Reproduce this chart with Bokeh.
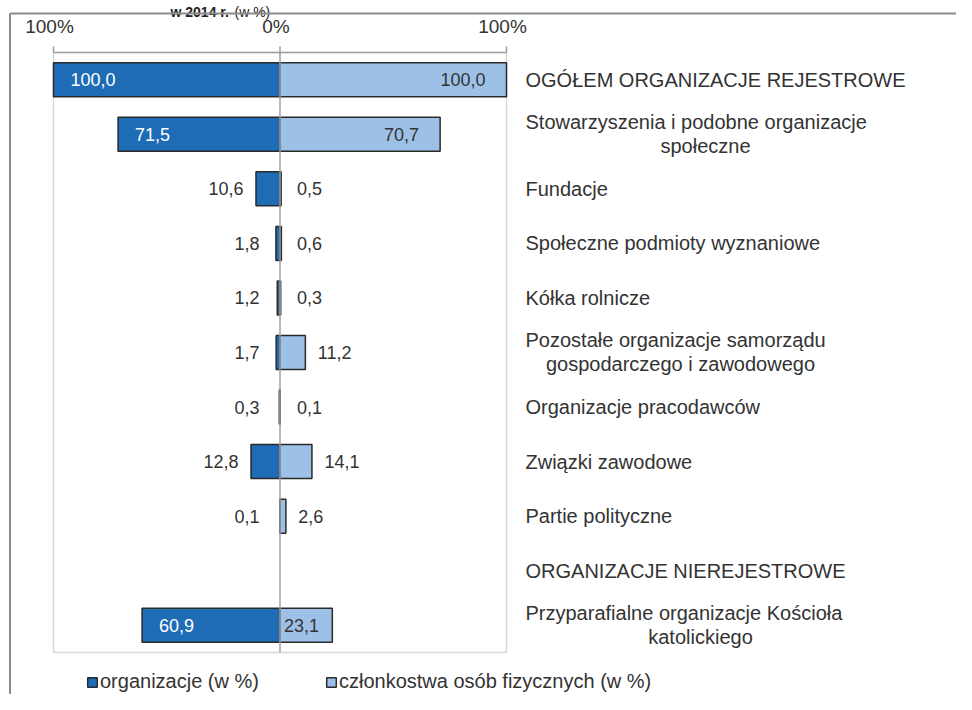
from bokeh.plotting import figure
from bokeh.models import Range1d, ColumnDataSource, Legend, LegendItem
from bokeh.core.properties import value
from bokeh.embed import file_html
from bokeh.resources import INLINE
import math

# ---------------- data ----------------
title_bold = "w 2014 r."
title_rest = "(w %)"
categories = [
    "OGÓŁEM ORGANIZACJE REJESTROWE",
    "Stowarzyszenia i podobne organizacje\nspołeczne",
    "Fundacje",
    "Społeczne podmioty wyznaniowe",
    "Kółka rolnicze",
    "Pozostałe organizacje samorządu\ngospodarczego i zawodowego",
    "Organizacje pracodawców",
    "Związki zawodowe",
    "Partie polityczne",
    "ORGANIZACJE NIEREJESTROWE",
    "Przyparafialne organizacje Kościoła\nkatolickiego",
]
organizacje = [100.0, 71.5, 10.6, 1.8, 1.2, 1.7, 0.3, 12.8, 0.1, float("nan"), 60.9]
czlonkostwa = [100.0, 70.7, 0.5, 0.6, 0.3, 11.2, 0.1, 14.1, 2.6, float("nan"), 23.1]
tick_values = [-100, 0, 100]
tick_labels = ["100%", "0%", "100%"]
legend_labels = ["organizacje (w %)", "członkostwa osób fizycznych (w %)"]

# ---------------- geometry helpers ----------------
W, H = 956, 694
PX_PER_PCT = 2.265          # screen px per 1 %
X0_PX = 53                  # screen px of -100 %
TOP_PX, ROW_PX = 52, 54.545 # top of plot box, row pitch
n = len(categories)

x_start = -100 - X0_PX / PX_PER_PCT
x_end = x_start + W / PX_PER_PCT


def ypx(px):
    return (px - TOP_PX) / ROW_PX - 0.5


def xpx(px):
    return -100 + (px - X0_PX) / PX_PER_PCT


def dpx(px):
    return px / PX_PER_PCT


def fmt(v):
    return f"{v:.1f}".replace(".", ",")


DARK = "#1e6bb6"
LIGHT = "#9dc0e7"
EDGE = "#2a2a2a"
TXT = "#333333"
FONT = value("Liberation Sans")

p = figure(width=W, height=H, x_range=Range1d(x_start, x_end),
           y_range=Range1d(ypx(H), ypx(0)),
           output_backend="svg", toolbar_location=None,
           x_axis_location=None, y_axis_location=None, min_border=0)
p.grid.visible = False
p.outline_line_color = None
p.background_fill_color = "white"
p.border_fill_color = "white"

# title (small, kept above the frame)
p.text(x=[xpx(170)], y=[ypx(11)], text=[title_bold], text_font=FONT,
       text_font_size="14px", text_font_style="bold", text_color="#222222",
       text_align="left", text_baseline="alphabetic")
p.text(x=[xpx(234)], y=[ypx(11)], text=[title_rest], text_font=FONT,
       text_font_size="14px", text_color="#222222",
       text_align="left", text_baseline="alphabetic")

# outer frame
p.segment(x0=[xpx(9.5), xpx(9.5)], y0=[ypx(13), ypx(13)],
          x1=[xpx(9.5), xpx(W)], y1=[ypx(H), ypx(13)],
          line_color="#8c8c8c", line_width=2)

# plot box
p.quad(left=[-100], right=[100], top=[ypx(TOP_PX)], bottom=[ypx(TOP_PX + n * ROW_PX)],
       fill_color=None, line_color="#d9d9d9", line_width=1.5)

rows = list(range(n))
src = ColumnDataSource(dict(
    y=rows,
    org_left=[-v for v in organizacje],
    czl_right=czlonkostwa,
))
bar_h = 34 / ROW_PX
r_org = p.hbar(y="y", left="org_left", right=0, height=bar_h, source=src,
               fill_color=DARK, line_color=EDGE, line_width=1.5)
r_czl = p.hbar(y="y", left=0, right="czl_right", height=bar_h, source=src,
               fill_color=LIGHT, line_color=EDGE, line_width=1.5)

# axis (top) and zero line
p.segment(x0=[-100], y0=[ypx(TOP_PX)], x1=[100], y1=[ypx(TOP_PX)],
          line_color="#a0a0a0", line_width=1.5)
p.segment(x0=tick_values, y0=[ypx(TOP_PX - 6)] * 3, x1=tick_values,
          y1=[ypx(TOP_PX)] * 3, line_color="#a0a0a0", line_width=1.5)
p.segment(x0=[0], y0=[ypx(TOP_PX)], x1=[0], y1=[ypx(TOP_PX + n * ROW_PX)],
          line_color="#a0a0a0", line_width=1.5)
p.text(x=[t - dpx(4) for t in tick_values], y=[ypx(26)] * 3, text=tick_labels,
       text_font=FONT, text_font_size="19px", text_color=TXT,
       text_align="center", text_baseline="middle")

# value labels
groups = {}


def add(key, x, y, t):
    groups.setdefault(key, ([], [], []))
    groups[key][0].append(x)
    groups[key][1].append(y)
    groups[key][2].append(t)


for i, v in enumerate(organizacje):
    if math.isnan(v):
        continue
    if v >= 50:
        add(("left", "white"), -v + dpx(17), i, fmt(v))
    else:
        add(("right", TXT), -max(v + 5.5, 9), i, fmt(v))
for i, v in enumerate(czlonkostwa):
    if math.isnan(v):
        continue
    if v >= 50:
        add(("right", TXT), v - dpx(21), i, fmt(v))
    elif v >= 20:
        add(("left", TXT), dpx(4), i, fmt(v))
    else:
        add(("left", TXT), max(v + 5.5, 7.5), i, fmt(v))

for (align, color), (xs, ys, ts) in groups.items():
    p.text(x=xs, y=ys, text=ts, text_font=FONT, text_font_size="18px",
           text_color=color, text_align=align, text_baseline="middle")

# category labels on the right
cx = xpx(525)
lx, ly, lt, cxs, cys, cts = [], [], [], [], [], []
for i, c in enumerate(categories):
    parts = c.split("\n")
    if len(parts) == 1:
        lx.append(cx); ly.append(i); lt.append(c)
    else:
        half = 12 / ROW_PX
        lx.append(cx); ly.append(i - half); lt.append(parts[0])
        cxs.append(cx + dpx(len(parts[0]) * 5)); cys.append(i + half); cts.append(parts[1])
p.text(x=lx, y=ly, text=lt, text_font=FONT, text_font_size="20px",
       text_color=TXT, text_align="left", text_baseline="middle")
p.text(x=cxs, y=cys, text=cts, text_font=FONT, text_font_size="20px",
       text_color=TXT, text_align="center", text_baseline="middle")

# legend
legend = Legend(items=[LegendItem(label=legend_labels[0], renderers=[r_org]),
                       LegendItem(label=legend_labels[1], renderers=[r_czl])],
                orientation="horizontal", location=(86, 1),
                glyph_width=12, glyph_height=12, label_standoff=2, spacing=66,
                padding=0, margin=0, border_line_color=None,
                background_fill_alpha=0, label_text_font="Liberation Sans",
                label_text_font_size="20px", label_text_color=TXT,
                label_height=20)
p.add_layout(legend, "center")

open("out.html", "w").write(file_html(p, INLINE))
